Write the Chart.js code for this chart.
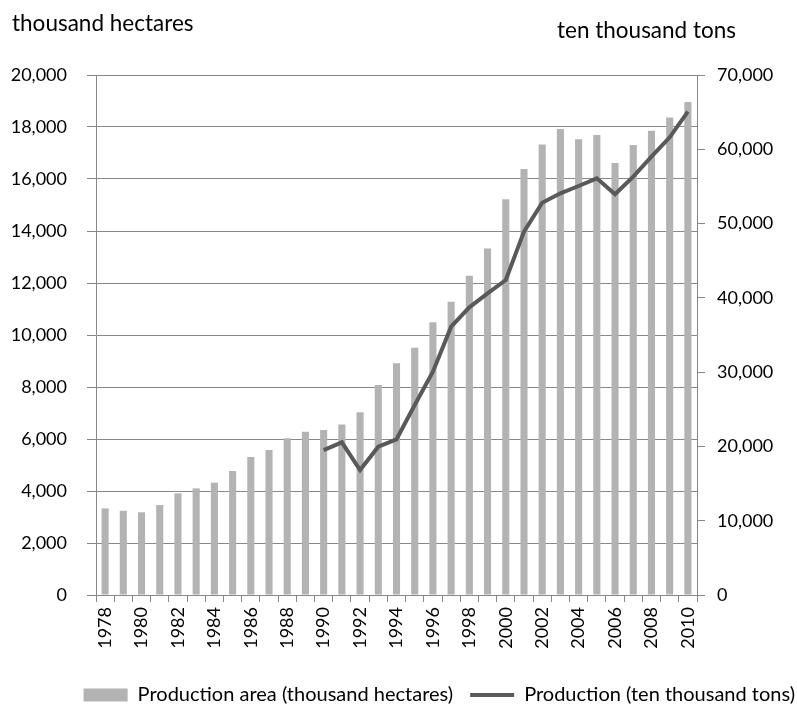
<!DOCTYPE html>
<html>
<head>
<meta charset="utf-8">
<script src="https://cdn.jsdelivr.net/npm/chart.js"></script>
<style>
  html, body { margin: 0; padding: 0; background: #fff; }
  canvas { display: block; }
</style>
</head>
<body>
<canvas id="chart" width="797" height="706"></canvas>
<script>
// data
const years = [
  '1978','1979','1980','1981','1982','1983','1984','1985','1986','1987','1988',
  '1989','1990','1991','1992','1993','1994','1995','1996','1997','1998','1999',
  '2000','2001','2002','2003','2004','2005','2006','2007','2008','2009','2010'
]
const areaValues = [
  3330, 3240, 3180, 3460, 3910, 4100, 4320, 4770, 5310, 5580, 6030,
  6280, 6350, 6560, 7030, 8080, 8910, 9510, 10490, 11280, 12280, 13330,
  15220, 16380, 17330, 17920, 17530, 17690, 16620, 17310, 17860, 18370, 18960
]
const productionValues = [
  null, null, null, null, null, null, null, null, null, null, null,
  null, 19500, 20550, 16830, 19960, 20960, 25580, 30060, 36120, 38730, 40610,
  42400, 48910, 52810, 54070, 55060, 56090, 53940, 56310, 59000, 61610, 65060
]
const leftTitle = 'thousand hectares'
const rightTitle = 'ten thousand tons'

const font = 'Lato'
const gridColor = '#888888'

// axis titles sit horizontally above the plot, not rotated
const axisTitles = {
  id: 'axisTitles',
  afterDraw(chart){
    const ctx = chart.ctx
    ctx.save()
    ctx.fillStyle = '#000'
    ctx.font = '22.5px ' + font
    ctx.textBaseline = 'middle'
    ctx.textAlign = 'left'
    ctx.fillText(leftTitle, 12, 24)
    ctx.fillText(rightTitle, 557, 31)
    ctx.restore()
  }
}

new Chart(document.getElementById('chart'), {
  type: 'bar',
  data: {
    labels: years,
    datasets: [
      {
        type: 'line',
        label: 'Production (ten thousand tons)',
        data: productionValues,
        yAxisID: 'y1',
        borderColor: '#595959',
        backgroundColor: '#595959',
        borderWidth: 4,
        pointRadius: 0,
        pointStyle: 'line',
        tension: 0,
        spanGaps: false,
        order: 0
      },
      {
        label: 'Production area (thousand hectares)',
        data: areaValues,
        yAxisID: 'y',
        backgroundColor: '#b3b3b3',
        borderWidth: 0,
        pointStyle: 'rect',
        categoryPercentage: 1,
        barPercentage: 0.39,
        order: 1
      }
    ]
  },
  options: {
    responsive: false,
    animation: false,
    // negative right padding lets the legend run to the canvas edge
    layout: { padding: { top: 75, bottom: -9, left: 0, right: -15 } },
    scales: {
      x: {
        afterFit: s => { s.height = 73 },
        grid: {
          offset: true,
          drawOnChartArea: false,
          drawTicks: true,
          tickLength: 7,
          color: gridColor
        },
        border: { color: gridColor },
        ticks: {
          autoSkip: false,
          minRotation: 90,
          maxRotation: 90,
          padding: 5,
          color: '#000',
          font: { family: font, size: 18 },
          callback: (v, i) => i % 2 === 0 ? years[i] : ''
        }
      },
      y: {
        position: 'left',
        min: 0,
        max: 20000,
        afterFit: s => { s.width = 96 },
        grid: { color: gridColor, tickLength: 9 },
        border: { color: gridColor },
        ticks: {
          stepSize: 2000,
          padding: 20,
          color: '#000',
          font: { family: font, size: 18 }
        }
      },
      y1: {
        position: 'right',
        min: 0,
        max: 70000,
        afterFit: s => { s.width = 115 },
        grid: { drawOnChartArea: false, color: gridColor, tickLength: 8 },
        border: { color: gridColor },
        ticks: {
          stepSize: 10000,
          padding: 12,
          color: '#000',
          font: { family: font, size: 18 }
        }
      }
    },
    plugins: {
      legend: {
        position: 'bottom',
        align: 'end',
        reverse: true,
        labels: {
          usePointStyle: true,
          pointStyleWidth: 44,
          boxHeight: 13,
          padding: 17,
          color: '#000',
          font: { family: font, size: 20 }
        }
      },
      tooltip: { enabled: false }
    }
  },
  plugins: [axisTitles]
})
</script>
</body>
</html>
